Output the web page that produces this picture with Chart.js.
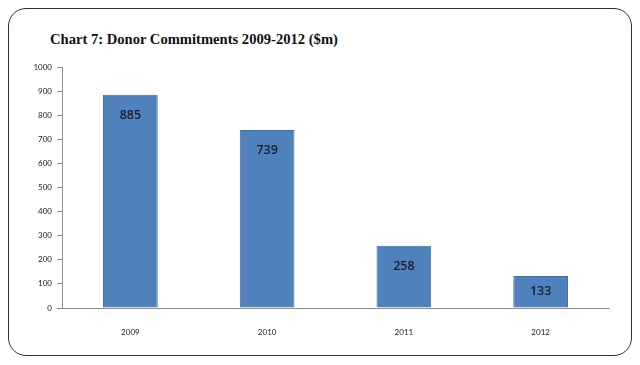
<!DOCTYPE html>
<html>
<head>
<meta charset="utf-8">
<script src="https://cdn.jsdelivr.net/npm/chart.js@4"></script>
<style>
    body { margin: 0; background: #fff; }
    #frame {
        position: absolute; left: 8px; top: 8px; width: 622px; height: 346px;
        border: 1.6px solid #2e2e2e; border-radius: 18px;
    }
    #title {
        position: absolute; left: 50px; top: 31px;
        font: bold 14.6px "Liberation Serif", "Times New Roman", serif; color: #111;
    }
    #wrap { position: absolute; left: 0; top: 0; width: 640px; height: 365px; }
</style>
</head>
<body>
<div id="frame"></div>
<div id="title">Chart 7: Donor Commitments 2009-2012 ($m)</div>
<div id="wrap"><canvas id="donorChart"></canvas></div>
<script>
const years = ['2009', '2010', '2011', '2012'];
const commitments = [885, 739, 258, 133];

// Draws the value inside each bar, near its top
const valueLabels = {
    id: 'valueLabels',
    afterDatasetsDraw(chart) {
        const ctx = chart.ctx;
        const meta = chart.getDatasetMeta(0);
        ctx.save();
        ctx.font = '600 12.5px "Open Sans", sans-serif';
        ctx.fillStyle = '#1c1c2c';
        ctx.textAlign = 'center';
        ctx.textBaseline = 'middle';
        meta.data.forEach((bar, i) => {
            const y = Math.min(bar.y + 21, (bar.y + bar.base) / 2);
            ctx.fillText(commitments[i], bar.x, y);
        });
        ctx.restore();
    }
};

const ctx = document.getElementById('donorChart').getContext('2d');
new Chart(ctx, {
    type: 'bar',
    data: {
        labels: years,
        datasets: [{
            data: commitments,
            backgroundColor: '#4f81bd',
            borderColor: '#3c6ea8',
            borderWidth: 1,
            categoryPercentage: 1,
            barPercentage: 0.40
        }]
    },
    options: {
        responsive: true,
        maintainAspectRatio: false,
        animation: false,
        layout: { padding: { left: 0, top: 67, right: 31, bottom: 0 } },
        plugins: {
            legend: { display: false },
            tooltip: { enabled: false }
        },
        scales: {
            x: {
                grid: { display: false },
                border: { display: true, color: '#8c8c8c', width: 1 },
                ticks: { color: '#222', font: { family: 'Lato', size: 8 }, padding: 12 },
                afterFit: (scale) => { scale.height = 57; }
            },
            y: {
                min: 0,
                max: 1000,
                ticks: {
                    stepSize: 100, color: '#222', font: { family: 'Lato', size: 8 }, padding: 5,
                    callback: (v) => String(v)
                },
                grid: { drawOnChartArea: false, tickLength: 5, color: '#8c8c8c' },
                border: { display: true, color: '#8c8c8c', width: 1 },
                afterFit: (scale) => { scale.width = 62; }
            }
        }
    },
    plugins: [valueLabels]
});
</script>
</body>
</html>
